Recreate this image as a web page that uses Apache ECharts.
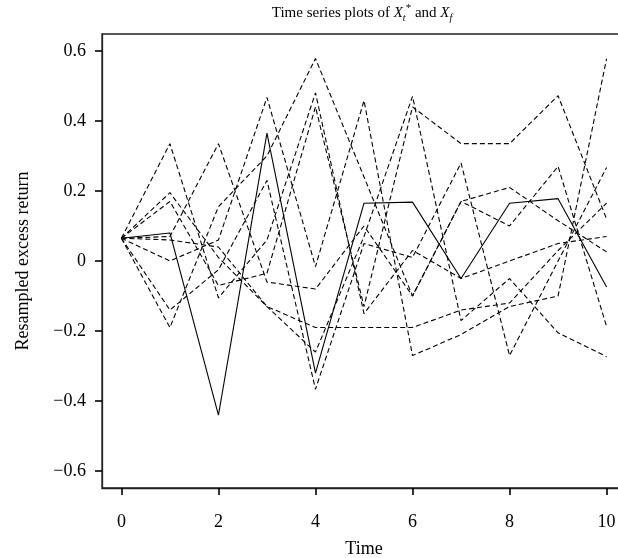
<!DOCTYPE html>
<html>
<head>
<meta charset="utf-8">
<script src="https://cdn.jsdelivr.net/npm/echarts@6/dist/echarts.min.js"></script>
<style>
html,body{margin:0;padding:0;background:#fff;}
#chart{width:618px;height:558px;}
</style>
</head>
<body>
<div id="chart"></div>
<script>
// ---- data ----
var times = [0, 1, 2, 3, 4, 5, 6, 7, 8, 9, 10];
var xTicks = [0, 2, 4, 6, 8, 10];
var yTicks = [-0.6, -0.4, -0.2, 0, 0.2, 0.4, 0.6];
var solidSeries = [0.065, 0.08, -0.44, 0.365, -0.32, 0.165, 0.168, -0.05, 0.165, 0.178, -0.074];
var dashed1 = [0.065, 0.17, -0.07, -0.035, 0.44, -0.13, 0.44, 0.335, 0.335, 0.472, 0.12];
var dashed2 = [0.065, 0.0, 0.06, 0.467, -0.016, 0.458, -0.27, -0.21, -0.13, -0.10, 0.578];
var dashed3 = [0.065, -0.19, 0.155, 0.30, 0.578, 0.24, -0.10, 0.17, 0.21, 0.115, 0.026];
var dashed4 = [0.065, 0.335, -0.105, 0.06, 0.48, -0.15, 0.03, -0.05, 0.0, 0.05, 0.07];
var dashed5 = [0.065, 0.195, 0.01, -0.13, -0.26, 0.07, 0.47, -0.17, -0.05, -0.205, -0.273];
var dashed6 = [0.065, -0.14, -0.025, 0.23, -0.366, 0.05, 0.01, 0.28, -0.27, 0.0, 0.267];
var dashed7 = [0.065, 0.07, 0.335, -0.06, -0.08, 0.1, -0.1, 0.17, 0.1, 0.27, -0.187];
var dashed8 = [0.065, 0.06, 0.04, -0.13, -0.19, -0.19, -0.19, -0.14, -0.12, 0.03, 0.165];
var dashedList = [dashed1, dashed2, dashed3, dashed4, dashed5, dashed6, dashed7, dashed8];

var FONT = '"Liberation Serif", "DejaVu Serif", serif';

function pairs(vals) {
  return times.map(function (t, i) { return [t, vals[i]]; });
}

var series = [];
dashedList.forEach(function (d, k) {
  series.push({
    type: 'line', name: 'resample' + (k + 1), data: pairs(d),
    symbol: 'none', silent: true,
    lineStyle: { color: '#000', width: 1.1, type: [5, 3] }
  });
});
series.push({
  type: 'line', name: 'original', data: pairs(solidSeries),
  symbol: 'none', silent: true,
  lineStyle: { color: '#000', width: 1.1, type: 'solid' }
});

function yFmt(v) {
  if (Math.abs(v) < 1e-9) return '0';
  if (v < 0) return '\u2212' + (-v).toFixed(1);
  return v.toFixed(1);
}

var chart = echarts.init(document.getElementById('chart'), null, { renderer: 'canvas' });
chart.setOption({
  animation: false,
  backgroundColor: '#fff',
  grid: {
    left: 102, top: 34, right: -8, height: 454,
    outerBoundsMode: 'none', containLabel: false,
    show: true, borderColor: '#222', borderWidth: 1.3, backgroundColor: 'transparent'
  },
  graphic: [{
    type: 'text', x: 362, y: 13,
    style: {
      text: 'Time series plots of {i|X}{sub|t}{sup|*} and {i|X}{sub|f}',
      align: 'center', verticalAlign: 'middle',
      font: '15px ' + FONT, fill: '#000',
      rich: {
        i: { fontFamily: FONT, fontSize: 15, fontStyle: 'italic', lineHeight: 20 },
        sub: { fontFamily: FONT, fontSize: 10, fontStyle: 'italic', verticalAlign: 'bottom', lineHeight: 10, padding: [9, 0, 0, 0] },
        sup: { fontFamily: FONT, fontSize: 11, verticalAlign: 'top', lineHeight: 11, padding: [0, 0, 0, 0] }
      }
    }
  }],
  xAxis: {
    type: 'value', min: -0.4, max: 10.4,
    name: 'Time', nameLocation: 'middle', nameGap: 52,
    nameTextStyle: { fontFamily: FONT, fontSize: 18, color: '#000' },
    axisLine: { show: true, onZero: false, lineStyle: { color: '#222', width: 1.3 } },
    axisTick: { show: true, inside: false, length: 7, customValues: xTicks, lineStyle: { color: '#000', width: 1.6 } },
    axisLabel: { customValues: xTicks, margin: 25, fontFamily: FONT, fontSize: 18, color: '#000' },
    splitLine: { show: false }
  },
  yAxis: {
    type: 'value', min: -0.648, max: 0.648,
    name: 'Resampled excess return', nameLocation: 'middle', nameGap: 70, nameRotate: 90,
    nameTextStyle: { fontFamily: FONT, fontSize: 18, color: '#000' },
    axisLine: { show: true, onZero: false, lineStyle: { color: '#222', width: 1.3 } },
    axisTick: { show: true, inside: false, length: 7, customValues: yTicks, lineStyle: { color: '#000', width: 1.6 } },
    axisLabel: { customValues: yTicks, margin: 16, fontFamily: FONT, fontSize: 18, color: '#000', formatter: yFmt },
    splitLine: { show: false }
  },
  series: series
});
</script>
</body>
</html>
